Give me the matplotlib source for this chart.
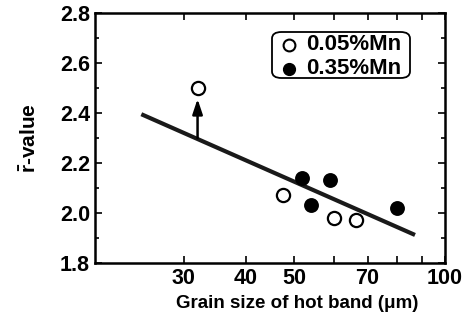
import matplotlib
matplotlib.use("Agg")
import matplotlib.pyplot as plt
from matplotlib.ticker import FixedLocator, FixedFormatter, NullLocator, MultipleLocator
from matplotlib.patches import FancyBboxPatch
from matplotlib.lines import Line2D
import numpy as np

plt.rcParams['font.family'] = ['Liberation Sans', 'DejaVu Sans']
plt.rcParams['font.weight'] = 'bold'
plt.rcParams['mathtext.fontset'] = 'custom'
plt.rcParams['mathtext.bf'] = 'Liberation Sans:bold'
plt.rcParams['mathtext.rm'] = 'Liberation Sans:bold'
plt.rcParams['mathtext.it'] = 'Liberation Sans:bold:italic'

# Data
open_x = [32, 47.5, 60, 66.5]
open_y = [2.50, 2.07, 1.98, 1.97]
filled_x = [51.7, 59, 54, 80]
filled_y = [2.14, 2.13, 2.03, 2.02]
fit_x = [24.7, 87.1]
fit_y = [2.394, 1.911]
arrow_x = 32
arrow_from = 2.298
arrow_to = 2.455
xticks = [30, 40, 50, 60, 70, 80, 90, 100]
xticklabels = ['30', '40', '50', '', '70', '', '', '100']
yticks = [1.8, 2.0, 2.2, 2.4, 2.6, 2.8]
legend_labels = ['0.05%Mn', '0.35%Mn']

fig = plt.figure(figsize=(4.72, 3.27), dpi=100)
ax = fig.add_axes([0.2023, 0.1966, 0.9428 - 0.2023, 0.9612 - 0.1966])
ax.set_xscale('log')
ax.set_xlim(20, 100)
ax.set_ylim(1.8, 2.8)

ax.plot(fit_x, fit_y, color='#1a1a1a', lw=3.0, solid_capstyle='butt', zorder=2)
ax.annotate('', xy=(arrow_x, arrow_to), xytext=(arrow_x, arrow_from),
            arrowprops=dict(arrowstyle='-|>,head_length=0.9,head_width=0.3',
                            color='black', lw=1.8, shrinkA=0, shrinkB=0), zorder=3)
ax.plot(open_x, open_y, 'o', ms=9.5, mfc='white', mec='black', mew=1.6, zorder=4)
ax.plot(filled_x, filled_y, 'o', ms=9.5, mfc='black', mec='black', mew=1.2, zorder=4)

ax.xaxis.set_major_locator(FixedLocator(xticks))
ax.xaxis.set_major_formatter(FixedFormatter(xticklabels))
ax.xaxis.set_minor_locator(NullLocator())
ax.yaxis.set_major_locator(FixedLocator(yticks))
ax.yaxis.set_minor_locator(MultipleLocator(0.1))
ax.set_yticklabels([f'{v:.1f}' for v in yticks])

ax.tick_params(which='both', direction='in', top=True, right=True, width=1.2,
               labelsize=15.5, pad=4)
ax.tick_params(which='major', length=5)
ax.tick_params(which='minor', length=3)
for lab in ax.get_xticklabels() + ax.get_yticklabels():
    lab.set_fontweight('bold')
for s in ax.spines.values():
    s.set_linewidth(1.8)

ax.set_xlabel('Grain size of hot band (μm)', fontsize=13.5, fontweight='bold')
ax.xaxis.set_label_coords(0.577, -0.13)
ax.set_ylabel(r'$\bar{\mathbf{r}}$-value', fontsize=15, fontweight='bold')
ax.yaxis.set_label_coords(-0.16, 0.5)

# Legend box
box = FancyBboxPatch((272 / 472, (327 - 78) / 327), (410 - 272) / 472, (78 - 32) / 327,
                     boxstyle='round,pad=0,rounding_size=0.02', transform=fig.transFigure,
                     fc='white', ec='black', lw=1.3, zorder=5)
fig.patches.append(box)
lx = 289 / 472
fig.add_artist(Line2D([lx], [(327 - 45) / 327], marker='o', ms=8.5, mfc='white', mec='black',
                      mew=1.5, transform=fig.transFigure, zorder=6))
fig.add_artist(Line2D([lx], [(327 - 69) / 327], marker='o', ms=8.5, mfc='black', mec='black',
                      transform=fig.transFigure, zorder=6))
fig.text(306 / 472, (327 - 45) / 327, legend_labels[0], fontsize=16, fontweight='bold',
         va='center', ha='left', zorder=6)
fig.text(306 / 472, (327 - 69) / 327, legend_labels[1], fontsize=16, fontweight='bold',
         va='center', ha='left', zorder=6)

fig.savefig('out.png', dpi=100)
